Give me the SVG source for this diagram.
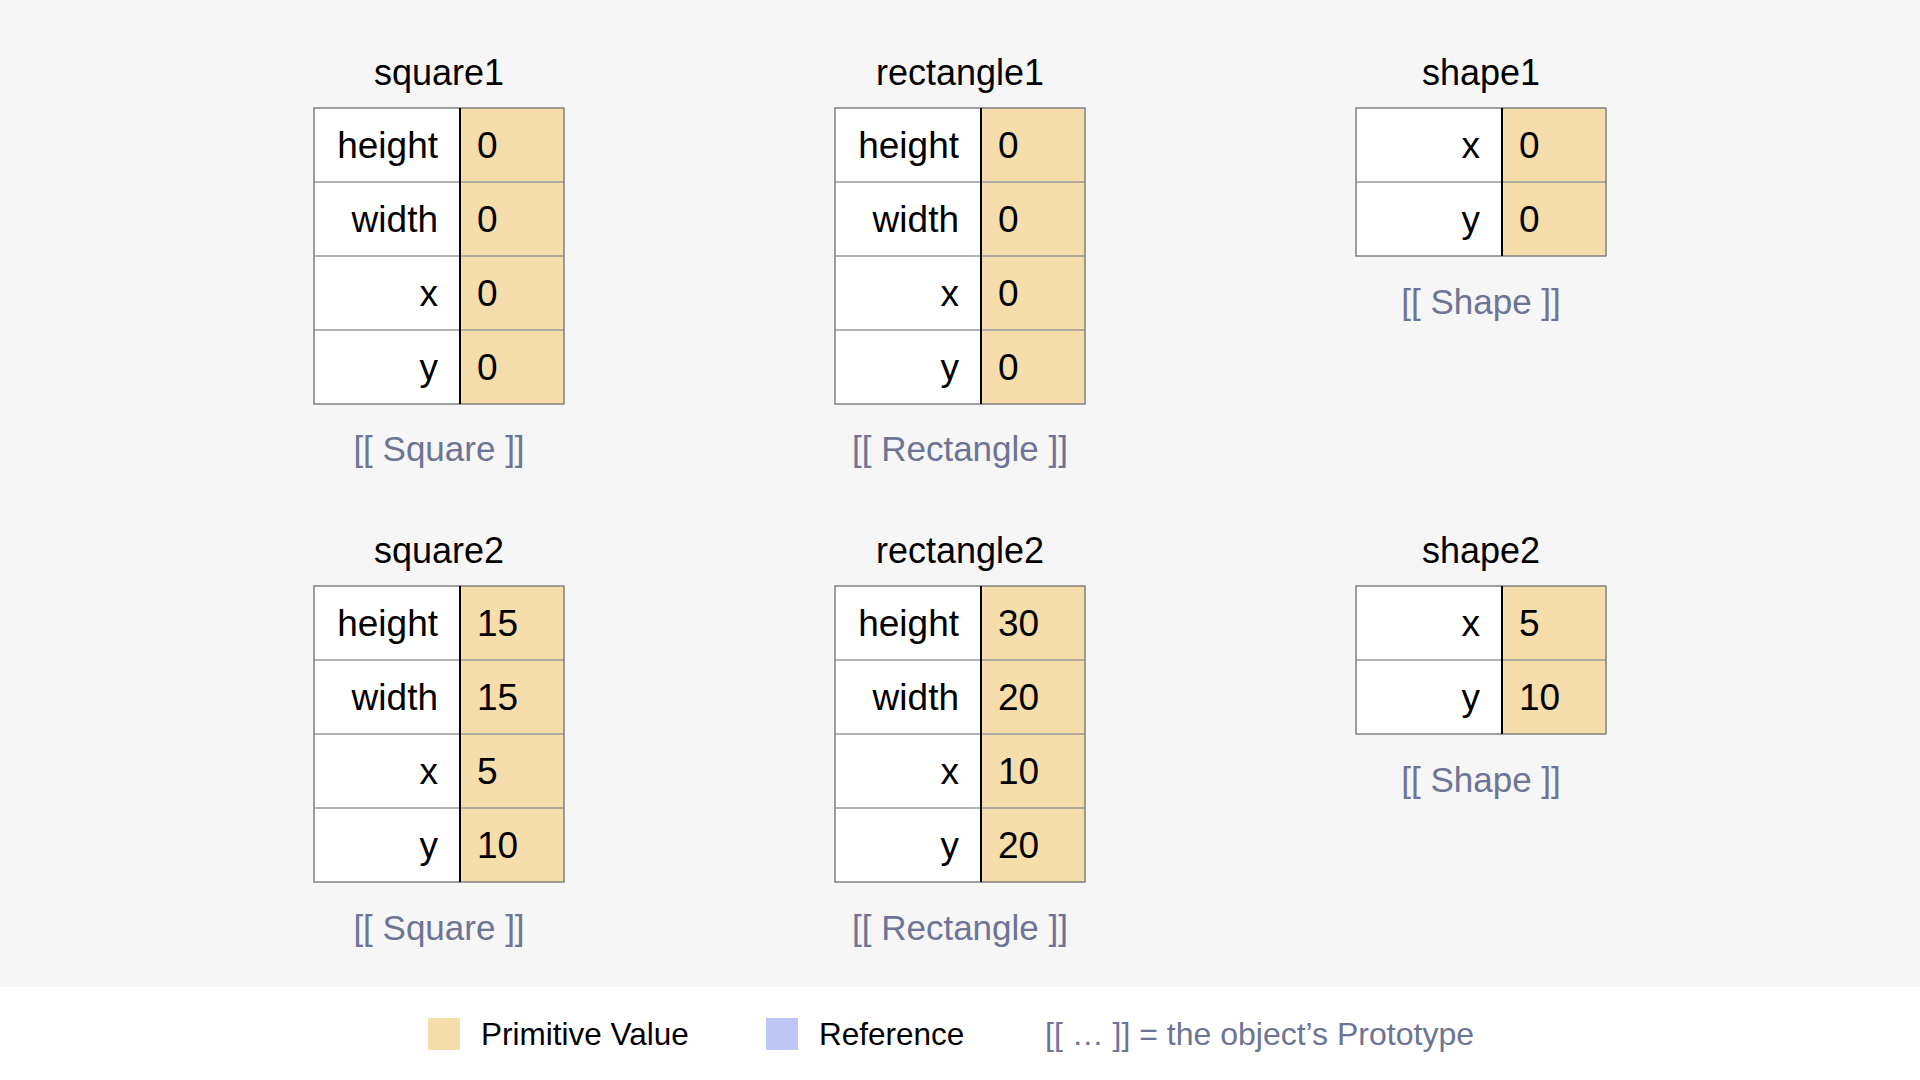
<svg xmlns="http://www.w3.org/2000/svg" width="1920" height="1080" viewBox="0 0 1920 1080">
  <style>
    text { font-family: "Liberation Sans", Arial, Helvetica, sans-serif; }
    .title { font-size: 36px; fill: #000; text-anchor: middle; }
    .key { font-size: 37px; fill: #000; text-anchor: end; }
    .val { font-size: 37px; fill: #000; }
    .proto { font-size: 35px; fill: #6d7494; text-anchor: middle; }
    .keycell { fill: #ffffff; }
    .valcell { fill: #f5deab; }
    .rowline { stroke: #9a9a9a; stroke-width: 1.5; }
    .frame { fill: none; stroke: #808080; stroke-width: 1.5; }
    .divider { stroke: #000; stroke-width: 2; }
    .legend { font-size: 31.5px; fill: #000; }
    .legend-note { font-size: 32px; fill: #6d7494; }
  </style>

  <!-- page background and legend strip -->
  <rect x="0" y="0" width="1920" height="1080" fill="#ffffff"/>
  <rect x="0" y="0" width="1920" height="987" fill="#f6f6f6"/>

  <!-- square1 -->
  <g id="square1">
    <text class="title" x="439" y="85">square1</text>
    <rect class="keycell" x="314" y="108" width="146" height="296"/>
    <rect class="valcell" x="460" y="108" width="104" height="296"/>
    <line class="rowline" x1="314" y1="182" x2="564" y2="182"/>
    <line class="rowline" x1="314" y1="256" x2="564" y2="256"/>
    <line class="rowline" x1="314" y1="330" x2="564" y2="330"/>
    <rect class="frame" x="314" y="108" width="250" height="296"/>
    <line class="divider" x1="460" y1="108" x2="460" y2="404"/>
    <text class="key" x="438" y="158">height</text>
    <text class="key" x="438" y="232">width</text>
    <text class="key" x="438" y="306">x</text>
    <text class="key" x="438" y="380">y</text>
    <text class="val" x="477" y="158">0</text>
    <text class="val" x="477" y="232">0</text>
    <text class="val" x="477" y="306">0</text>
    <text class="val" x="477" y="380">0</text>
    <text class="proto" x="439" y="461">[[ Square ]]</text>
  </g>

  <!-- rectangle1 -->
  <g id="rectangle1">
    <text class="title" x="960" y="85">rectangle1</text>
    <rect class="keycell" x="835" y="108" width="146" height="296"/>
    <rect class="valcell" x="981" y="108" width="104" height="296"/>
    <line class="rowline" x1="835" y1="182" x2="1085" y2="182"/>
    <line class="rowline" x1="835" y1="256" x2="1085" y2="256"/>
    <line class="rowline" x1="835" y1="330" x2="1085" y2="330"/>
    <rect class="frame" x="835" y="108" width="250" height="296"/>
    <line class="divider" x1="981" y1="108" x2="981" y2="404"/>
    <text class="key" x="959" y="158">height</text>
    <text class="key" x="959" y="232">width</text>
    <text class="key" x="959" y="306">x</text>
    <text class="key" x="959" y="380">y</text>
    <text class="val" x="998" y="158">0</text>
    <text class="val" x="998" y="232">0</text>
    <text class="val" x="998" y="306">0</text>
    <text class="val" x="998" y="380">0</text>
    <text class="proto" x="960" y="461">[[ Rectangle ]]</text>
  </g>

  <!-- shape1 -->
  <g id="shape1">
    <text class="title" x="1481" y="85">shape1</text>
    <rect class="keycell" x="1356" y="108" width="146" height="148"/>
    <rect class="valcell" x="1502" y="108" width="104" height="148"/>
    <line class="rowline" x1="1356" y1="182" x2="1606" y2="182"/>
    <rect class="frame" x="1356" y="108" width="250" height="148"/>
    <line class="divider" x1="1502" y1="108" x2="1502" y2="256"/>
    <text class="key" x="1480" y="158">x</text>
    <text class="key" x="1480" y="232">y</text>
    <text class="val" x="1519" y="158">0</text>
    <text class="val" x="1519" y="232">0</text>
    <text class="proto" x="1481" y="314">[[ Shape ]]</text>
  </g>

  <!-- square2 -->
  <g id="square2">
    <text class="title" x="439" y="563">square2</text>
    <rect class="keycell" x="314" y="586" width="146" height="296"/>
    <rect class="valcell" x="460" y="586" width="104" height="296"/>
    <line class="rowline" x1="314" y1="660" x2="564" y2="660"/>
    <line class="rowline" x1="314" y1="734" x2="564" y2="734"/>
    <line class="rowline" x1="314" y1="808" x2="564" y2="808"/>
    <rect class="frame" x="314" y="586" width="250" height="296"/>
    <line class="divider" x1="460" y1="586" x2="460" y2="882"/>
    <text class="key" x="438" y="636">height</text>
    <text class="key" x="438" y="710">width</text>
    <text class="key" x="438" y="784">x</text>
    <text class="key" x="438" y="858">y</text>
    <text class="val" x="477" y="636">15</text>
    <text class="val" x="477" y="710">15</text>
    <text class="val" x="477" y="784">5</text>
    <text class="val" x="477" y="858">10</text>
    <text class="proto" x="439" y="940">[[ Square ]]</text>
  </g>

  <!-- rectangle2 -->
  <g id="rectangle2">
    <text class="title" x="960" y="563">rectangle2</text>
    <rect class="keycell" x="835" y="586" width="146" height="296"/>
    <rect class="valcell" x="981" y="586" width="104" height="296"/>
    <line class="rowline" x1="835" y1="660" x2="1085" y2="660"/>
    <line class="rowline" x1="835" y1="734" x2="1085" y2="734"/>
    <line class="rowline" x1="835" y1="808" x2="1085" y2="808"/>
    <rect class="frame" x="835" y="586" width="250" height="296"/>
    <line class="divider" x1="981" y1="586" x2="981" y2="882"/>
    <text class="key" x="959" y="636">height</text>
    <text class="key" x="959" y="710">width</text>
    <text class="key" x="959" y="784">x</text>
    <text class="key" x="959" y="858">y</text>
    <text class="val" x="998" y="636">30</text>
    <text class="val" x="998" y="710">20</text>
    <text class="val" x="998" y="784">10</text>
    <text class="val" x="998" y="858">20</text>
    <text class="proto" x="960" y="940">[[ Rectangle ]]</text>
  </g>

  <!-- shape2 -->
  <g id="shape2">
    <text class="title" x="1481" y="563">shape2</text>
    <rect class="keycell" x="1356" y="586" width="146" height="148"/>
    <rect class="valcell" x="1502" y="586" width="104" height="148"/>
    <line class="rowline" x1="1356" y1="660" x2="1606" y2="660"/>
    <rect class="frame" x="1356" y="586" width="250" height="148"/>
    <line class="divider" x1="1502" y1="586" x2="1502" y2="734"/>
    <text class="key" x="1480" y="636">x</text>
    <text class="key" x="1480" y="710">y</text>
    <text class="val" x="1519" y="636">5</text>
    <text class="val" x="1519" y="710">10</text>
    <text class="proto" x="1481" y="792">[[ Shape ]]</text>
  </g>

  <!-- no connectors in this view -->
  <g id="connectors"/>

  <!-- legend -->
  <g id="legend">
    <rect x="428" y="1018" width="32" height="32" fill="#f5deab"/>
    <text class="legend" x="481" y="1045">Primitive Value</text>
    <rect x="766" y="1018" width="32" height="32" fill="#bec6f6"/>
    <text class="legend" x="819" y="1045">Reference</text>
    <text class="legend-note" x="1045" y="1045">[[ … ]] = the object’s Prototype</text>
  </g>
</svg>
